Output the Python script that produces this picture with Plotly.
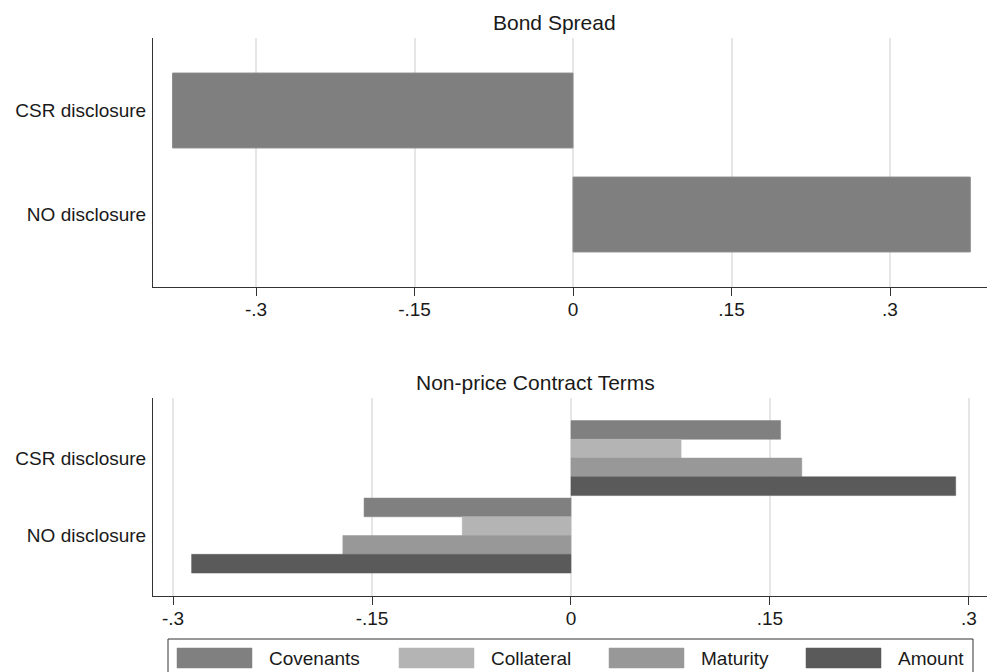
import plotly.graph_objects as go

# ---------------- data ----------------
categories = ["CSR disclosure", "NO disclosure"]
bond_spread = [-0.379, 0.376]

series_names = ["Covenants", "Collateral", "Maturity", "Amount"]
covenants = [0.158, -0.156]
collateral = [0.083, -0.082]
maturity = [0.174, -0.172]
amount = [0.290, -0.286]

tick_vals = [-0.3, -0.15, 0, 0.15, 0.3]
tick_text = ["-.3", "-.15", "0", ".15", ".3"]
panel_titles = ["Bond Spread", "Non-price Contract Terms"]

# ---------------- style ----------------
W, H = 987, 672
FONT = "Liberation Sans, Arial, Helvetica, sans-serif"
TXT = "#1a1a1a"
AXIS = "#333333"
GRID = "#e6e6e6"
top_color = "#7f7f7f"
series_colors = ["#808080", "#b4b4b4", "#989898", "#5a5a5a"]
series_values = [covenants, collateral, maturity, amount]


def px_x(p):
    return p / W


def px_y(p):
    return 1 - p / H


fig = go.Figure()

fig.add_trace(go.Bar(
    y=categories, x=bond_spread, orientation="h",
    xaxis="x", yaxis="y", width=0.72,
    marker=dict(color=top_color, line=dict(color="#8c8c8c", width=1)),
    showlegend=False, name="Bond Spread",
))

for name, vals, col in zip(series_names, series_values, series_colors):
    fig.add_trace(go.Bar(
        y=categories, x=vals, orientation="h",
        xaxis="x2", yaxis="y2", name=name,
        marker=dict(color=col, line=dict(color=col, width=0.5)),
        showlegend=False,
    ))

xcommon = dict(
    tickvals=tick_vals, ticktext=tick_text,
    ticks="outside", ticklen=8, tickwidth=1, tickcolor=AXIS,
    showline=True, linecolor=AXIS, linewidth=1,
    showgrid=True, gridcolor=GRID, gridwidth=1.5,
    zeroline=False, automargin=False,
    tickfont=dict(family=FONT, size=19, color=TXT),
    ticklabelstandoff=-3,
)
ycommon = dict(
    type="category", categoryorder="array", categoryarray=categories,
    showline=True, linecolor=AXIS, linewidth=1,
    ticks="", showgrid=False, zeroline=False, automargin=False,
    tickfont=dict(family=FONT, size=19, color=TXT),
    ticklabelstandoff=2,
)

fig.update_layout(
    width=W, height=H,
    margin=dict(l=0, r=0, t=0, b=0),
    paper_bgcolor="white", plot_bgcolor="white",
    barmode="group", bargap=0.032, bargroupgap=0,
    showlegend=False,
    font=dict(family=FONT, color=TXT),
    xaxis=dict(domain=[px_x(153), 1], anchor="y", range=[-0.3975, 0.3918], **xcommon),
    yaxis=dict(domain=[px_y(287), px_y(38)], anchor="x", range=[1.697, -0.697], **ycommon),
    xaxis2=dict(domain=[px_x(153), 1], anchor="y2", range=[-0.3151, 0.3136], **xcommon),
    yaxis2=dict(domain=[px_y(596), px_y(398)], anchor="x2", range=[1.78, -0.775], **ycommon),
)

# panel titles
title_pos = [(554, 23), (535, 382)]
for t, (cx, cy) in zip(panel_titles, title_pos):
    fig.add_annotation(
        text=t, x=px_x(cx), y=px_y(cy), xref="paper", yref="paper",
        xanchor="center", yanchor="middle", showarrow=False,
        font=dict(family=FONT, size=21, color=TXT),
    )

# custom legend (Stata-style wide swatches)
fig.add_shape(
    type="rect", xref="paper", yref="paper",
    x0=px_x(168), x1=px_x(973), y0=px_y(680), y1=px_y(639),
    line=dict(color=AXIS, width=1), fillcolor="rgba(0,0,0,0)",
)
legend_x_px = [177, 399, 609, 806]
for name, col, lx in zip(series_names, series_colors, legend_x_px):
    fig.add_shape(
        type="rect", xref="paper", yref="paper",
        x0=px_x(lx), x1=px_x(lx + 75), y0=px_y(668), y1=px_y(648),
        line=dict(color=col, width=0.5), fillcolor=col,
    )
    fig.add_annotation(
        text=name, x=px_x(lx + 90), y=px_y(658), xref="paper", yref="paper",
        xanchor="left", yanchor="middle", showarrow=False,
        font=dict(family=FONT, size=19, color=TXT),
    )

fig.write_html(
    "out.html",
    config={"displayModeBar": False},
    post_script="document.body.style.margin='0';document.body.style.overflow='hidden';",
)
